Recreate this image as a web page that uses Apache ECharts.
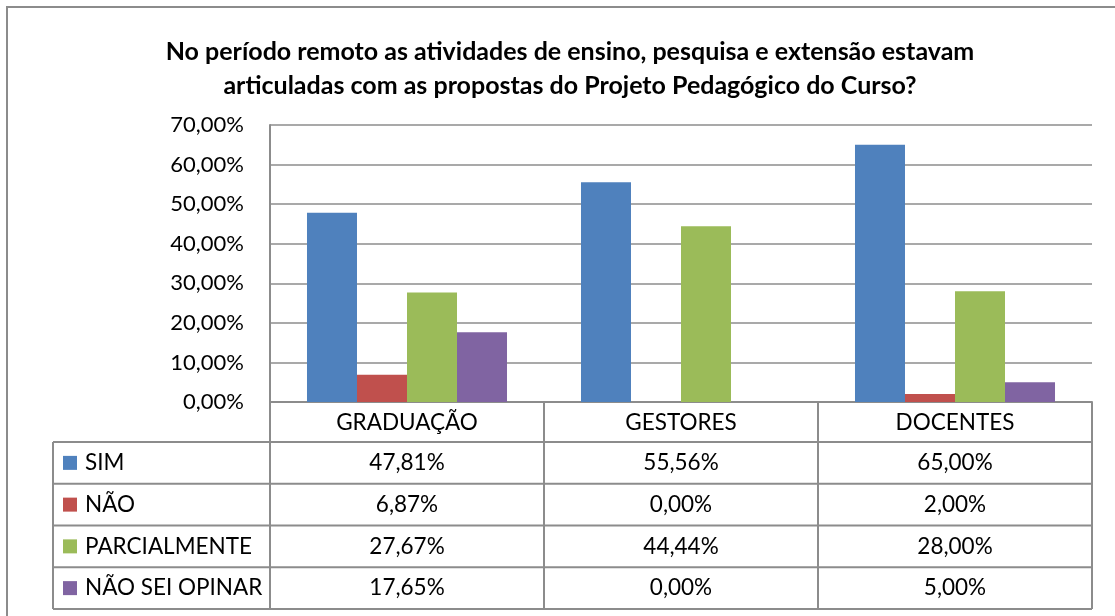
<!DOCTYPE html>
<html>
<head>
<meta charset="utf-8">
<script src="https://cdn.jsdelivr.net/npm/echarts@6/dist/echarts.min.js"></script>
<style>
  html, body { margin: 0; padding: 0; background: #fff; }
  #chart { width: 1115px; height: 616px; }
</style>
</head>
<body>
<div id="chart"></div>
<script>
const categories = ['GRADUAÇÃO', 'GESTORES', 'DOCENTES']
const seriesNames = ['SIM', 'NÃO', 'PARCIALMENTE', 'NÃO SEI OPINAR']
const sim = [47.81, 55.56, 65.00]
const nao = [6.87, 0.00, 2.00]
const parcialmente = [27.67, 44.44, 28.00]
const naoSeiOpinar = [17.65, 0.00, 5.00]
const colors = ['#4F81BD', '#C0504D', '#9BBB59', '#8064A2']

const allValues = [sim, nao, parcialmente, naoSeiOpinar]
const fmt = v => v.toFixed(2).replace('.', ',') + '%'

const FONT = 'Lato, "Open Sans", sans-serif'
const LINE = '#8c8c8c'

// plot area and table layout (pixels)
const plot = { left: 270, right: 1092, top: 125, bottom: 402 }
const tableLeft = 53
const headerH = 40
const rowH = 41.75

const chart = echarts.init(document.getElementById('chart'))

const graphic = []
// outer chart border (left and top visible)
graphic.push({
  type: 'rect',
  shape: { x: 7, y: 7, width: 1200, height: 700 },
  style: { fill: 'none', stroke: LINE, lineWidth: 2 },
  silent: true
})

const colW = (plot.right - plot.left) / categories.length
const rowTop = plot.bottom + headerH
const tableBottom = rowTop + rowH * seriesNames.length

// horizontal lines of the table
for (let i = 0; i <= seriesNames.length; i++) {
  const y = rowTop + rowH * i
  graphic.push({
    type: 'line',
    shape: { x1: tableLeft, y1: y, x2: plot.right, y2: y },
    style: { stroke: LINE, lineWidth: 2 },
    silent: true
  })
}
// vertical lines
graphic.push({
  type: 'line',
  shape: { x1: tableLeft, y1: rowTop, x2: tableLeft, y2: tableBottom },
  style: { stroke: LINE, lineWidth: 2 }, silent: true
})
for (let c = 0; c <= categories.length; c++) {
  const x = plot.left + colW * c
  graphic.push({
    type: 'line',
    shape: { x1: x, y1: plot.bottom, x2: x, y2: tableBottom },
    style: { stroke: LINE, lineWidth: 2 }, silent: true
  })
}

// legend keys, names and values
seriesNames.forEach((name, r) => {
  const cy = rowTop + rowH * r + rowH / 2
  graphic.push({
    type: 'rect',
    shape: { x: tableLeft + 10, y: cy - 7, width: 14, height: 14 },
    style: { fill: colors[r] }, silent: true
  })
  graphic.push({
    type: 'text',
    x: tableLeft + 32, y: cy,
    style: { text: name, fill: '#000', font: '22.5px ' + FONT, textVerticalAlign: 'middle', textAlign: 'left' },
    silent: true
  })
  allValues[r].forEach((v, c) => {
    graphic.push({
      type: 'text',
      x: plot.left + colW * c + colW / 2, y: cy,
      style: { text: fmt(v), fill: '#000', font: '22.5px ' + FONT, textVerticalAlign: 'middle', textAlign: 'center' },
      silent: true
    })
  })
})

const option = {
  animation: false,
  title: {
    text: 'No período remoto as atividades de ensino, pesquisa e extensão estavam\narticuladas com as propostas do Projeto Pedagógico do Curso?',
    left: 565,
    top: 30,
    textAlign: 'center',
    textStyle: {
      fontFamily: FONT,
      fontSize: 25,
      fontWeight: 'bold',
      color: '#000',
      lineHeight: 34
    }
  },
  grid: {
    left: plot.left,
    right: 1115 - plot.right,
    top: plot.top,
    bottom: 616 - plot.bottom,
    containLabel: false
  },
  xAxis: {
    type: 'category',
    data: categories,
    axisLine: { lineStyle: { color: LINE, width: 2 } },
    axisTick: { show: false },
    axisLabel: {
      color: '#000',
      fontFamily: FONT,
      fontSize: 22.5,
      margin: 9
    }
  },
  yAxis: {
    type: 'value',
    min: 0,
    max: 70,
    interval: 10,
    axisLine: { show: true, lineStyle: { color: LINE, width: 2 } },
    axisTick: { show: false },
    splitLine: { lineStyle: { color: LINE, width: 1.5 } },
    axisLabel: {
      color: '#000',
      fontFamily: FONT,
      fontSize: 22,
      margin: 26,
      formatter: v => fmt(v)
    }
  },
  series: seriesNames.map((name, i) => ({
    name: name,
    type: 'bar',
    data: allValues[i],
    barGap: 0,
    barCategoryGap: '27%',
    itemStyle: { color: colors[i] }
  })),
  graphic: graphic
}

chart.setOption(option)
</script>
</body>
</html>
